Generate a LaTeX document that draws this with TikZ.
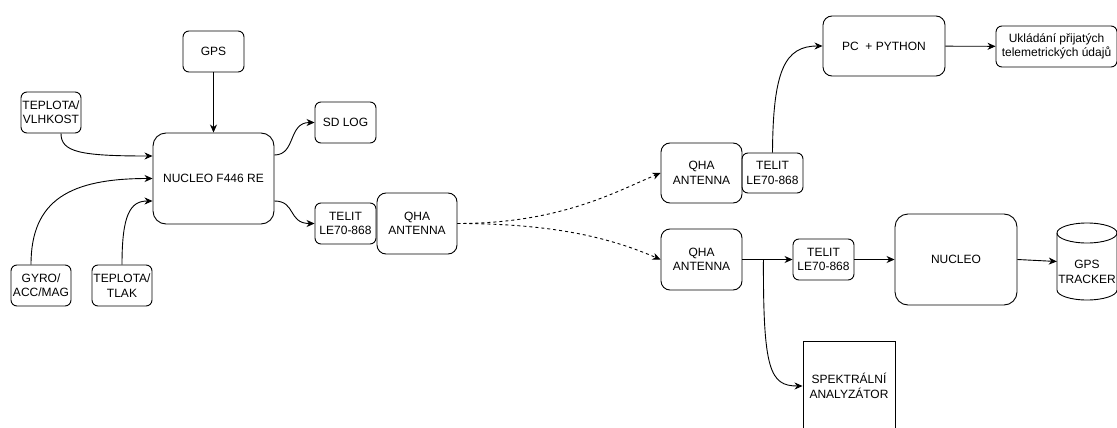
\documentclass[tikz,border=0pt]{standalone}
\usepackage{fontspec}
\setmainfont{Liberation Sans}
\usetikzlibrary{arrows.meta,calc}
\begin{document}
\begin{tikzpicture}[x=1pt,y=-1pt,
  box/.style={draw, line width=0.9pt, rounded corners=6pt, align=center, inner sep=0pt,
     font=\fontsize{12}{14.4}\selectfont},
  conn/.style={line width=0.9pt, -{Stealth[length=8pt,width=7pt,inset=2.5pt]}},
  radio/.style={conn, dash pattern=on 3pt off 3pt}]
\useasboundingbox (0,0) rectangle (1117,428);
% left side
\node[box, minimum width=61pt, minimum height=41pt] (gps) at (213.5,51.5) {GPS};
\node[box, minimum width=60pt, minimum height=41pt] (tv) at (51,112.5) {TEPLOTA/\\VLHKOST};
\node[box, rounded corners=13pt, minimum width=121pt, minimum height=91pt] (nuc) at (213.5,178.5) {NUCLEO F446 RE};
\node[box, minimum width=61pt, minimum height=41pt] (sd) at (345.5,122.5) {SD LOG};
\node[box, minimum width=61pt, minimum height=41pt] (telL) at (345.5,223.5) {TELIT\\LE70-868};
\node[box, rounded corners=9pt, minimum width=80pt, minimum height=61pt] (qhaL) at (417,223.5) {QHA\\ANTENNA};
\node[box, minimum width=60pt, minimum height=41pt] (gyro) at (41,285.5) {GYRO/\\ACC/MAG};
\node[box, minimum width=60pt, minimum height=41pt] (tt) at (122,285.5) {TEPLOTA/\\TLAK};
% right side
\node[box, rounded corners=9pt, minimum width=81pt, minimum height=60pt] (qha1) at (701.5,173) {QHA\\ANTENNA};
\node[box, minimum width=61pt, minimum height=40pt] (tel1) at (772.5,173) {TELIT\\LE70-868};
\node[box, rounded corners=9pt, minimum width=81pt, minimum height=61pt] (qha2) at (701.5,259.5) {QHA\\ANTENNA};
\node[box, minimum width=61pt, minimum height=41pt] (tel2) at (823.5,259.5) {TELIT\\LE70-868};
\node[box, rounded corners=13pt, minimum width=122pt, minimum height=91pt] (nuc2) at (956,259.5) {NUCLEO};
\node[box, rounded corners=9pt, minimum width=122pt, minimum height=60pt] (pc) at (884,46) {PC\ \ + PYTHON};
\node[box, minimum width=121pt, minimum height=41pt] (uk) at (1056.5,46.5) {Ukládání přijatých\\telemetrických údajů};
\node[box, rounded corners=0pt, minimum width=92pt, minimum height=90pt] (spek) at (849,386) {SPEKTRÁLNÍ\\ANALYZÁTOR};
% cylinder
\node[inner sep=0pt, minimum width=60pt, minimum height=77pt] (cyl) at (1087,261.5) {};
\draw[line width=0.9pt] (1087,233) ellipse [x radius=30pt, y radius=10pt];
\draw[line width=0.9pt] (1057,233) -- (1057,290) arc[start angle=180, end angle=360, x radius=30pt, y radius=10pt] -- (1117,233);
\node[align=center, inner sep=0pt, font=\fontsize{12}{14.4}\selectfont] (cyltxt) at (1087,272) {GPS\\TRACKER};
% connectors left
\draw[conn] (gps) -- (nuc);
\draw[conn] ($(tv.south)+(10,0)$) .. controls (61,152) and (80,156) .. ($(nuc.west)+(0,-22.5)$);
\draw[conn] ($(gyro.north)+(-10,0)$) .. controls (31,200) and (70,178.5) .. (nuc.west);
\draw[conn] (tt.north) .. controls (122,215) and (130,201) .. ($(nuc.west)+(0,22.5)$);
\draw[conn] ($(nuc.east)+(0,-23.5)$) .. controls (296,155) and (288,122.5) .. (sd.west);
\draw[conn] ($(nuc.east)+(0,22.5)$) .. controls (296,201) and (288,223.5) .. (telL.west);
% radio links
\draw[radio] (qhaL.east) .. controls (560,223.5) and (615,192) .. (qha1.west);
\draw[radio] (qhaL.east) .. controls (560,223.5) and (615,240) .. (qha2.west);
% right connectors
\draw[conn] (tel1.north) .. controls (773,70) and (785,46) .. (pc.west);
\draw[conn] (pc) -- (uk);
\draw[conn] (qha2) -- (tel2);
\draw[conn] (tel2) -- (nuc2);
\draw[conn] (nuc2.east) -- (cyl.west);
\coordinate (br) at ($(qha2.east)+(21,0)$);
\draw[conn] (br) .. controls (763,370) and (770,386) .. (spek.west);
\end{tikzpicture}
\end{document}
